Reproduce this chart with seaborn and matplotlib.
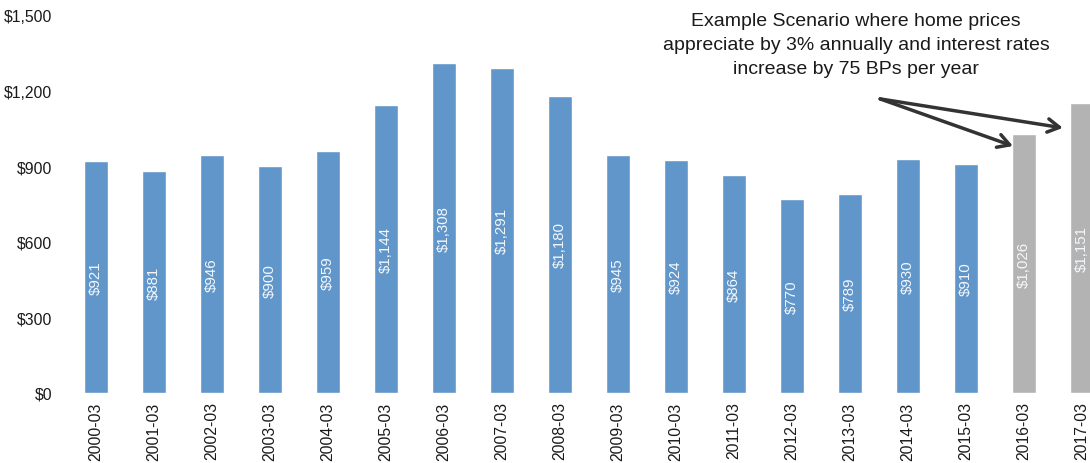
import matplotlib
matplotlib.use("Agg")
import matplotlib.pyplot as plt
import seaborn as sns
import pandas as pd

# Monthly payment by period (March of each year); last two are projections
periods = ["2000-03", "2001-03", "2002-03", "2003-03", "2004-03", "2005-03",
           "2006-03", "2007-03", "2008-03", "2009-03", "2010-03", "2011-03",
           "2012-03", "2013-03", "2014-03", "2015-03", "2016-03", "2017-03"]
payments = [921, 881, 946, 900, 959, 1144, 1308, 1291, 1180, 945, 924, 864,
            770, 789, 930, 910, 1026, 1151]
kinds = ["Actual"] * 16 + ["Projected"] * 2
y_ticks = [0, 300, 600, 900, 1200, 1500]

note_lines = ["Example Scenario where home prices",
              "appreciate by 3% annually and interest rates",
              "increase by 75 BPs per year"]

sns.set_theme(style="white")
plt.rcParams["font.family"] = ["Liberation Sans", "DejaVu Sans"]

df = pd.DataFrame({"period": periods, "payment": payments, "kind": kinds})

fig = plt.figure(figsize=(10.9, 4.64), dpi=100)
ax = fig.add_axes([62 / 1090, 70 / 464, 1028 / 1090, 378 / 464])

sns.barplot(data=df, x="period", y="payment", hue="kind",
            palette={"Actual": "#6096C9", "Projected": "#B3B3B3"},
            dodge=False, width=0.4, legend=False, ax=ax, saturation=1)

for i, v in enumerate(payments):
    ax.text(i, v / 2, f"${v:,}", rotation=90, ha="center", va="center",
            color="#F4F7FB", fontsize=10.8)

ax.set_xlim(-0.586, 17.138)
ax.set_ylim(0, 1500)
ax.set_yticks(y_ticks)
ax.set_yticklabels([f"${t:,}" for t in y_ticks])
ax.tick_params(axis="y", length=0, pad=7, labelsize=11.3, labelcolor="#1a1a1a")
ax.tick_params(axis="x", length=0, pad=6, labelsize=11.3, labelcolor="#1a1a1a",
               rotation=90)
ax.set_xlabel("")
ax.set_ylabel("")
for s in ax.spines.values():
    s.set_visible(False)

# scenario note, one line at a time for even spacing
for k, line in enumerate(note_lines):
    fig.text(856 / 1090, 1 - (19 + 24 * k) / 464, line, ha="center",
             va="center_baseline", fontsize=14.0, color="#1a1a1a")

arrow = dict(arrowstyle="->,head_length=0.7,head_width=0.4",
             color="#333333", lw=2.5, shrinkA=0, shrinkB=0)
ax.annotate("", xy=(15.81, 980), xytext=(13.52, 1167),
            arrowprops=arrow, annotation_clip=False)
ax.annotate("", xy=(16.67, 1052), xytext=(13.52, 1167),
            arrowprops=arrow, annotation_clip=False)

fig.savefig("out.png", dpi=100)
